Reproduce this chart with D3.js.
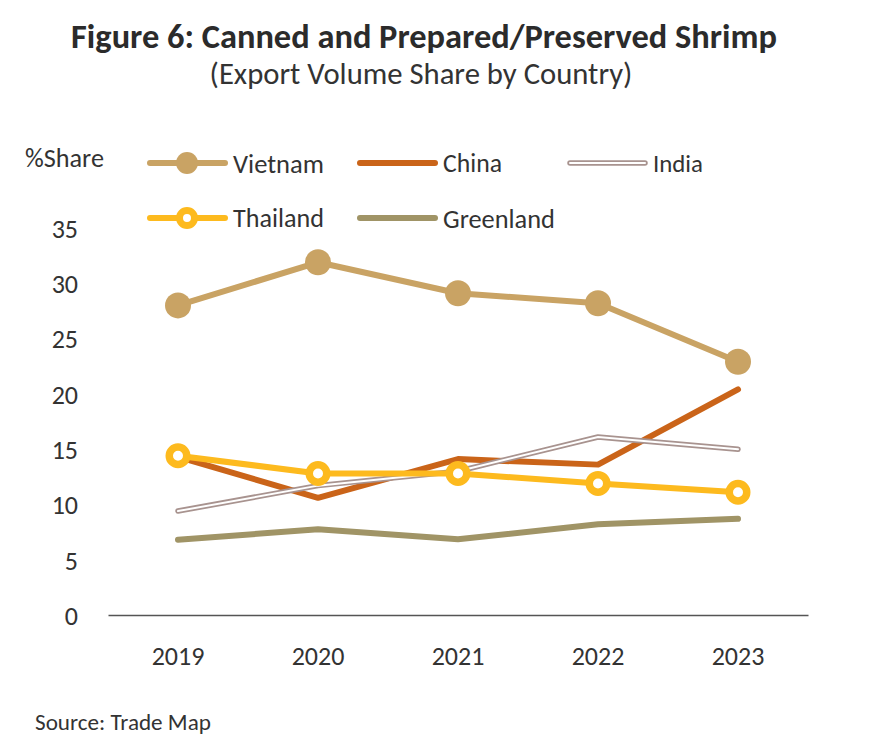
<!DOCTYPE html>
<html>
<head>
<meta charset="utf-8">
<script src="https://cdn.jsdelivr.net/npm/d3@7"></script>
<style>
  html, body { margin: 0; padding: 0; background: #fff; }
  svg { display: block; }
  text { font-family: Carlito, Lato, "Open Sans", sans-serif; fill: #333; }
</style>
</head>
<body>
<svg id="chart" width="870" height="754"></svg>
<script>
const years = ["2019", "2020", "2021", "2022", "2023"];
const yTicks = [0, 5, 10, 15, 20, 25, 30, 35];
const vietnam  = [28.0, 31.9, 29.1, 28.2, 22.9];
const china    = [14.3, 10.6, 14.1, 13.6, 20.4];
const india    = [9.4, 11.7, 13.0, 16.1, 15.0];
const thailand = [14.4, 12.8, 12.8, 11.9, 11.1];
const greenland= [6.8, 7.75, 6.85, 8.2, 8.7];
const seriesNames = ["Vietnam", "China", "India", "Thailand", "Greenland"];

const titleText = "Figure 6: Canned and Prepared/Preserved Shrimp";
const subtitleText = "(Export Volume Share by Country)";
const yAxisLabel = "%Share";
const sourceText = "Source: Trade Map";

const colors = {
  Vietnam: "#C9A364",
  China: "#CA6419",
  India: "#A8938F",
  Thailand: "#FDBA1E",
  Greenland: "#A09466"
};

const series = [
  { name: "Vietnam", values: vietnam, style: "bigdot" },
  { name: "China", values: china, style: "plain" },
  { name: "India", values: india, style: "double" },
  { name: "Thailand", values: thailand, style: "ring" },
  { name: "Greenland", values: greenland, style: "plain" }
];

const svg = d3.select("#chart");
const FONT = "Carlito, Lato, 'Open Sans', sans-serif";

function fitWidth(t, target) {
  const w = t.node().getComputedTextLength();
  const fs = parseFloat(t.style("font-size"));
  t.style("font-size", (fs * target / w) + "px");
}

// Title
const title = svg.append("text")
  .attr("x", 424).attr("y", 48)
  .attr("text-anchor", "middle")
  .style("font-weight", "bold")
  .style("font-size", "31px")
  .style("fill", "#2b2b2b")
  .text(titleText);
fitWidth(title, 706);

const sub = svg.append("text")
  .attr("x", 421).attr("y", 84)
  .attr("text-anchor", "middle")
  .style("font-size", "24px")
  .text(subtitleText);
fitWidth(sub, 423);

// Scales
const x = d3.scaleBand().domain(years).range([108, 808]).padding(0);
const xc = d => x(d) + x.bandwidth() / 2;
const y = d3.scaleLinear().domain([0, 35]).range([615, 228]);

// Y axis labels (no axis line)
const yAxis = d3.axisLeft(y).tickValues(yTicks).tickSize(0).tickPadding(0);
const yg = svg.append("g").attr("transform", "translate(78,0)").call(yAxis);
yg.select(".domain").remove();
yg.selectAll("text")
  .attr("x", 0)
  .attr("text-anchor", "end")
  .style("text-anchor", "end")
  .style("font-size", "26px")
  .style("font-family", FONT)
  .style("fill", "#333")
  .attr("dy", "0.36em");

// X axis
const xAxis = d3.axisBottom(x).tickSize(0).tickPadding(0);
const xg = svg.append("g").attr("transform", "translate(0,615)").call(xAxis);
xg.select(".domain").attr("stroke", "#555").attr("stroke-width", 1.5);
xg.selectAll("text")
  .style("font-size", "26px")
  .style("font-family", FONT)
  .style("fill", "#333")
  .attr("y", 41)
  .attr("dy", "0.36em");

// Y label
const yl = svg.append("text").attr("x", 25).attr("y", 167)
  .style("font-size", "23px").text(yAxisLabel);
fitWidth(yl, 79);

// Lines
const line = d3.line().x((d, i) => xc(years[i])).y(d => y(d));
const plot = svg.append("g");

series.forEach(s => {
  const c = colors[s.name];
  if (s.style === "double") {
    plot.append("path").attr("d", line(s.values))
      .attr("fill", "none").attr("stroke", c).attr("stroke-width", 5.5)
      .attr("stroke-linecap", "round").attr("stroke-linejoin", "round");
    plot.append("path").attr("d", line(s.values))
      .attr("fill", "none").attr("stroke", "#fff").attr("stroke-width", 2)
      .attr("stroke-linecap", "round").attr("stroke-linejoin", "round");
  } else {
    plot.append("path").attr("d", line(s.values))
      .attr("fill", "none").attr("stroke", c).attr("stroke-width", 6)
      .attr("stroke-linecap", "round").attr("stroke-linejoin", "round");
  }
  if (s.style === "bigdot") {
    plot.selectAll(null).data(s.values).enter().append("circle")
      .attr("cx", (d, i) => xc(years[i])).attr("cy", d => y(d))
      .attr("r", 13).attr("fill", c);
  } else if (s.style === "ring") {
    plot.selectAll(null).data(s.values).enter().append("circle")
      .attr("cx", (d, i) => xc(years[i])).attr("cy", d => y(d))
      .attr("r", 8.75).attr("fill", "#fff").attr("stroke", c).attr("stroke-width", 7.5);
  }
});

// Legend
const legendItems = [
  { name: "Vietnam", lx: 147, ly: 163, tw: 91 },
  { name: "China", lx: 357, ly: 163, tw: 59 },
  { name: "India", lx: 567, ly: 163, tw: 50 },
  { name: "Thailand", lx: 147, ly: 218, tw: 91 },
  { name: "Greenland", lx: 357, ly: 218, tw: 112 }
];
const lg = svg.append("g");
legendItems.forEach(it => {
  const s = series.find(q => q.name === it.name);
  const c = colors[it.name];
  const g = lg.append("g").attr("transform", `translate(${it.lx},${it.ly})`);
  if (s.style === "double") {
    g.append("line").attr("x1", 3).attr("x2", 78).attr("y1", 0).attr("y2", 0)
      .attr("stroke", c).attr("stroke-width", 5.5).attr("stroke-linecap", "round");
    g.append("line").attr("x1", 3).attr("x2", 78).attr("y1", 0).attr("y2", 0)
      .attr("stroke", "#fff").attr("stroke-width", 2).attr("stroke-linecap", "round");
  } else {
    g.append("line").attr("x1", 3).attr("x2", 78).attr("y1", 0).attr("y2", 0)
      .attr("stroke", c).attr("stroke-width", 6).attr("stroke-linecap", "round");
  }
  if (s.style === "bigdot") {
    g.append("circle").attr("cx", 40).attr("cy", 0).attr("r", 11).attr("fill", c);
  } else if (s.style === "ring") {
    g.append("circle").attr("cx", 40).attr("cy", 0).attr("r", 7.5)
      .attr("fill", "#fff").attr("stroke", c).attr("stroke-width", 7);
  }
  const t = g.append("text").attr("x", 86).attr("y", 0).attr("dy", "0.36em")
    .style("font-size", "24px").text(it.name);
  fitWidth(t, it.tw);
});

// Source
const src = svg.append("text").attr("x", 35).attr("y", 730)
  .style("font-size", "19px").text(sourceText);
fitWidth(src, 176);
</script>
</body>
</html>
